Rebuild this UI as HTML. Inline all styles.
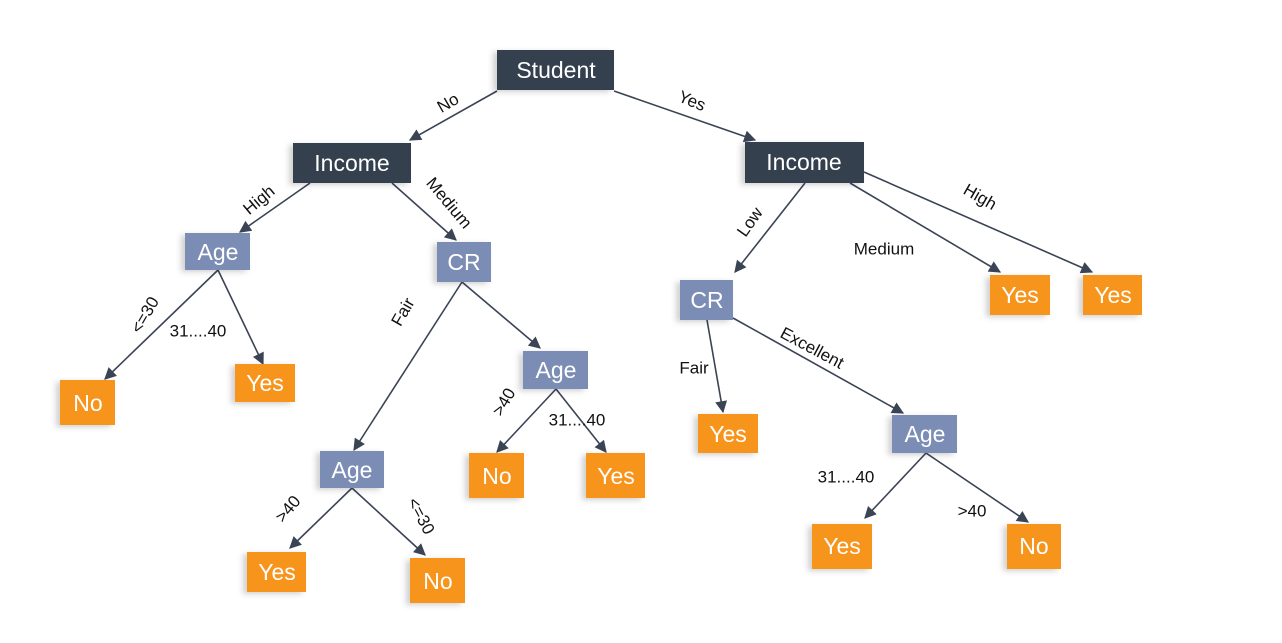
<!DOCTYPE html>
<html><head><meta charset="utf-8"><style>
body{margin:0;background:#fff}
svg{display:block}
text{font-family:"Liberation Sans","DejaVu Sans",sans-serif}
.n{fill:#fff;font-size:23px;text-anchor:middle;dominant-baseline:central}
.l{fill:#111;font-size:17px;text-anchor:middle;dominant-baseline:central}
line{stroke:#3b4455;stroke-width:1.6}
</style></head><body>
<svg width="1282" height="643" viewBox="0 0 1282 643">
<defs>
<marker id="a" viewBox="0 0 10 10" refX="9" refY="5" markerWidth="13" markerHeight="12" markerUnits="userSpaceOnUse" orient="auto"><path d="M0,0L10,5L0,10z" fill="#3b4455"/></marker>
<filter id="s" x="-20%" y="-20%" width="140%" height="140%"><feDropShadow dx="-4" dy="2" stdDeviation="3" flood-color="#000" flood-opacity="0.18"/></filter>
</defs>
<g marker-end="url(#a)">
<line x1="497" y1="91" x2="410" y2="140"/>
<line x1="614" y1="91" x2="755" y2="140"/>
<line x1="310" y1="183" x2="240" y2="232"/>
<line x1="392" y1="183" x2="456" y2="240"/>
<line x1="218" y1="270" x2="105" y2="379"/>
<line x1="218" y1="270" x2="263" y2="364"/>
<line x1="462" y1="282" x2="354" y2="450"/>
<line x1="462" y1="282" x2="540" y2="348"/>
<line x1="556" y1="389" x2="497" y2="452"/>
<line x1="556" y1="389" x2="606" y2="452"/>
<line x1="352" y1="488" x2="290" y2="548"/>
<line x1="352" y1="488" x2="425" y2="555"/>
<line x1="805" y1="183" x2="735" y2="272"/>
<line x1="850" y1="183" x2="1000" y2="272"/>
<line x1="864" y1="172" x2="1092" y2="272"/>
<line x1="707" y1="320" x2="723" y2="412"/>
<line x1="733" y1="318" x2="903" y2="413"/>
<line x1="926" y1="453" x2="865" y2="518"/>
<line x1="926" y1="453" x2="1028" y2="522"/>
</g>
<g filter="url(#s)">
<rect x="497" y="50" width="117" height="40" fill="#353f50"/>
<rect x="293" y="143" width="118" height="40" fill="#353f50"/>
<rect x="745" y="142" width="119" height="41" fill="#353f50"/>
<rect x="185" y="233" width="65" height="37" fill="#7b8db5"/>
<rect x="437" y="242" width="54" height="40" fill="#7b8db5"/>
<rect x="680" y="280" width="53" height="40" fill="#7b8db5"/>
<rect x="523" y="351" width="65" height="38" fill="#7b8db5"/>
<rect x="320" y="451" width="64" height="37" fill="#7b8db5"/>
<rect x="892" y="415" width="65" height="38" fill="#7b8db5"/>
<g fill="#f7941d">
<rect x="60" y="380" width="55" height="45"/>
<rect x="235" y="364" width="60" height="38"/>
<rect x="469" y="453" width="55" height="45"/>
<rect x="586" y="453" width="59" height="45"/>
<rect x="247" y="552" width="59" height="40"/>
<rect x="410" y="558" width="55" height="45"/>
<rect x="990" y="275" width="60" height="40"/>
<rect x="1083" y="275" width="59" height="40"/>
<rect x="698" y="414" width="60" height="39"/>
<rect x="812" y="524" width="60" height="45"/>
<rect x="1007" y="524" width="54" height="45"/>
</g></g>
<g class="n">
<text x="556" y="70">Student</text>
<text x="352" y="163">Income</text>
<text x="804" y="162">Income</text>
<text x="218" y="252">Age</text>
<text x="464" y="262">CR</text>
<text x="707" y="300">CR</text>
<text x="556" y="370">Age</text>
<text x="352" y="470">Age</text>
<text x="925" y="434">Age</text>
<text x="88" y="403">No</text>
<text x="265" y="383">Yes</text>
<text x="497" y="476">No</text>
<text x="616" y="476">Yes</text>
<text x="277" y="572">Yes</text>
<text x="438" y="581">No</text>
<text x="1020" y="295">Yes</text>
<text x="1113" y="295">Yes</text>
<text x="728" y="434">Yes</text>
<text x="842" y="546">Yes</text>
<text x="1034" y="546">No</text>
</g>
<g class="l">
<text transform="translate(448,103) rotate(-30)">No</text>
<text transform="translate(692,101) rotate(22)">Yes</text>
<text transform="translate(259,200) rotate(-40)">High</text>
<text transform="translate(449,203) rotate(50)">Medium</text>
<text transform="translate(145,315) rotate(-60)">&lt;=30</text>
<text x="198" y="331">31....40</text>
<text transform="translate(403,312) rotate(-60)">Fair</text>
<text transform="translate(504,402) rotate(-60)">&gt;40</text>
<text x="577" y="420">31....40</text>
<text transform="translate(288,509) rotate(-50)">&gt;40</text>
<text transform="translate(421,516) rotate(62)">&lt;=30</text>
<text transform="translate(750,222) rotate(-55)">Low</text>
<text x="884" y="249">Medium</text>
<text transform="translate(980,197) rotate(30)">High</text>
<text x="694" y="368">Fair</text>
<text transform="translate(812,348) rotate(28)">Excellent</text>
<text x="846" y="477">31....40</text>
<text x="972" y="511">&gt;40</text>
</g>
</svg>
</body></html>
